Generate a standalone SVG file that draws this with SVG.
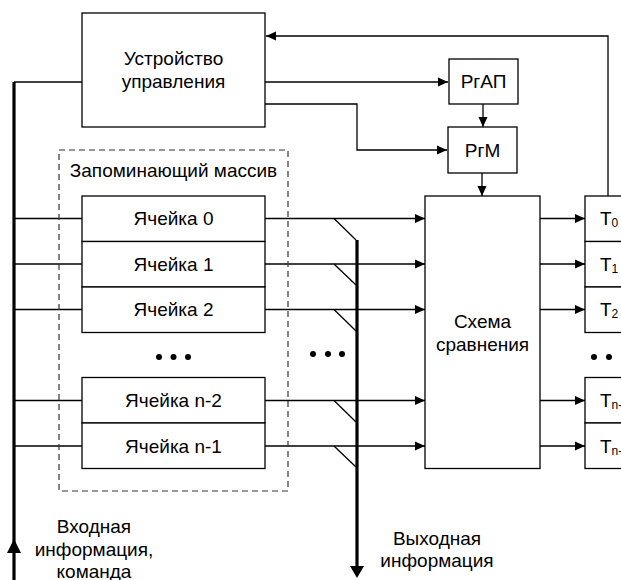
<svg xmlns="http://www.w3.org/2000/svg" width="621" height="580" viewBox="0 0 621 580">
<defs>
<marker id="arr" viewBox="0 0 10 10" refX="10" refY="5" markerWidth="10" markerHeight="10" markerUnits="userSpaceOnUse" orient="auto">
<path d="M0,0.5 L10,5 L0,9.5 Z" fill="#000"/>
</marker>
</defs>
<style>
.box{fill:#fff;stroke:#000;stroke-width:1.3}
.ln{fill:none;stroke:#000;stroke-width:1.3}
.bus{fill:none;stroke:#000;stroke-width:3.2}
.dash{fill:none;stroke:#333;stroke-width:1.2;stroke-dasharray:6,4}
text{font-family:"Liberation Sans",Arial,sans-serif;font-size:19px;fill:#000}
.c{text-anchor:middle}
.sub{font-size:12px}
.dot{fill:#000}
</style>
<rect width="621" height="580" fill="#fff"/>
<g id="connectors">
<polyline class="ln" points="608,196 608,36 266,36" marker-end="url(#arr)"/>
<line class="ln" x1="265" y1="82" x2="448" y2="82" marker-end="url(#arr)"/>
<polyline class="ln" points="265,104 357,104 357,150 447,150" marker-end="url(#arr)"/>
<line class="ln" x1="483" y1="104" x2="483" y2="127" marker-end="url(#arr)"/>
<line class="ln" x1="482" y1="173" x2="482" y2="196" marker-end="url(#arr)"/>
<line class="ln" x1="14" y1="82" x2="82" y2="82"/>
<line class="bus" x1="14" y1="580" x2="14" y2="82"/>
<path d="M14,539 L21,553 L7,553 Z" fill="#000"/>
<g id="in-lines">
<line class="ln" x1="14" y1="218.5" x2="82" y2="218.5"/>
<line class="ln" x1="14" y1="264" x2="82" y2="264"/>
<line class="ln" x1="14" y1="309.5" x2="82" y2="309.5"/>
<line class="ln" x1="14" y1="400.5" x2="82" y2="400.5"/>
<line class="ln" x1="14" y1="446" x2="82" y2="446"/>
</g>
<g id="out-lines">
<line class="ln" x1="265" y1="218.5" x2="425" y2="218.5" marker-end="url(#arr)"/>
<line class="ln" x1="265" y1="264" x2="425" y2="264" marker-end="url(#arr)"/>
<line class="ln" x1="265" y1="309.5" x2="425" y2="309.5" marker-end="url(#arr)"/>
<line class="ln" x1="265" y1="400.5" x2="425" y2="400.5" marker-end="url(#arr)"/>
<line class="ln" x1="265" y1="446" x2="425" y2="446" marker-end="url(#arr)"/>
<line class="ln" x1="334" y1="218.5" x2="356" y2="240"/>
<line class="ln" x1="334" y1="264" x2="356" y2="285"/>
<line class="ln" x1="334" y1="309.5" x2="356" y2="331"/>
<line class="ln" x1="334" y1="400.5" x2="356" y2="422"/>
<line class="ln" x1="334" y1="446" x2="356" y2="467"/>
<line class="bus" x1="357" y1="240" x2="357" y2="568"/>
<path d="M357,578 L350,566 L364,566 Z" fill="#000"/>
</g>
<g id="cmp-lines">
<line class="ln" x1="540" y1="218.5" x2="585" y2="218.5" marker-end="url(#arr)"/>
<line class="ln" x1="540" y1="264" x2="585" y2="264" marker-end="url(#arr)"/>
<line class="ln" x1="540" y1="309.5" x2="585" y2="309.5" marker-end="url(#arr)"/>
<line class="ln" x1="540" y1="400.5" x2="585" y2="400.5" marker-end="url(#arr)"/>
<line class="ln" x1="540" y1="446" x2="585" y2="446" marker-end="url(#arr)"/>
</g>
</g>
<g id="control-unit">
<rect class="box" x="82" y="13" width="183" height="114"/>
<text class="c" x="173.5" y="65">Устройство</text>
<text class="c" x="173.5" y="88">управления</text>
</g>
<g id="rgap">
<rect class="box" x="449" y="59" width="69" height="45"/>
<text class="c" x="483.5" y="88">РгАП</text>
</g>
<g id="rgm">
<rect class="box" x="448" y="127" width="69" height="46"/>
<text class="c" x="482.5" y="157">РгМ</text>
</g>
<g id="memory-array">
<rect class="dash" x="59" y="150" width="229" height="341"/>
<text class="c" x="173.5" y="177">Запоминающий массив</text>
</g>
<g id="cell0"><rect class="box" x="82" y="196" width="183" height="45.5"/><text class="c" x="173.5" y="225">Ячейка 0</text></g>
<g id="cell1"><rect class="box" x="82" y="241.5" width="183" height="45.5"/><text class="c" x="173.5" y="270.5">Ячейка 1</text></g>
<g id="cell2"><rect class="box" x="82" y="287" width="183" height="45.5"/><text class="c" x="173.5" y="316">Ячейка 2</text></g>
<g id="cell-n2"><rect class="box" x="82" y="377.5" width="183" height="45.5"/><text class="c" x="173.5" y="407">Ячейка n-2</text></g>
<g id="cell-n1"><rect class="box" x="82" y="423" width="183" height="45.5"/><text class="c" x="173.5" y="452.5">Ячейка n-1</text></g>
<g id="dots">
<circle class="dot" cx="159" cy="357" r="3"/><circle class="dot" cx="173.5" cy="357" r="3"/><circle class="dot" cx="188" cy="357" r="3"/>
<circle class="dot" cx="313" cy="354" r="3"/><circle class="dot" cx="328" cy="354" r="3"/><circle class="dot" cx="342" cy="354" r="3"/>
<circle class="dot" cx="594" cy="357" r="3"/><circle class="dot" cx="609" cy="357" r="3"/>
</g>
<g id="comparator">
<rect class="box" x="425" y="196" width="115" height="272.5"/>
<text class="c" x="482.5" y="328">Схема</text>
<text class="c" x="482.5" y="351">сравнения</text>
</g>
<g id="t0"><rect class="box" x="585" y="196" width="70" height="45.5"/><text x="600" y="225">T<tspan class="sub" dy="2">0</tspan></text></g>
<g id="t1"><rect class="box" x="585" y="241.5" width="70" height="45.5"/><text x="600" y="270.5">T<tspan class="sub" dy="2">1</tspan></text></g>
<g id="t2"><rect class="box" x="585" y="287" width="70" height="45.5"/><text x="600" y="316">T<tspan class="sub" dy="2">2</tspan></text></g>
<g id="tn2"><rect class="box" x="585" y="377.5" width="70" height="45.5"/><text x="600" y="407">T<tspan class="sub" dy="2">n-2</tspan></text></g>
<g id="tn1"><rect class="box" x="585" y="423" width="70" height="45.5"/><text x="600" y="452.5">T<tspan class="sub" dy="2">n-1</tspan></text></g>
<g id="labels">
<text class="c" x="94" y="533">Входная</text>
<text class="c" x="94" y="556">информация,</text>
<text class="c" x="94" y="578">команда</text>
<text class="c" x="437" y="545">Выходная</text>
<text class="c" x="437" y="567">информация</text>
</g>
</svg>
